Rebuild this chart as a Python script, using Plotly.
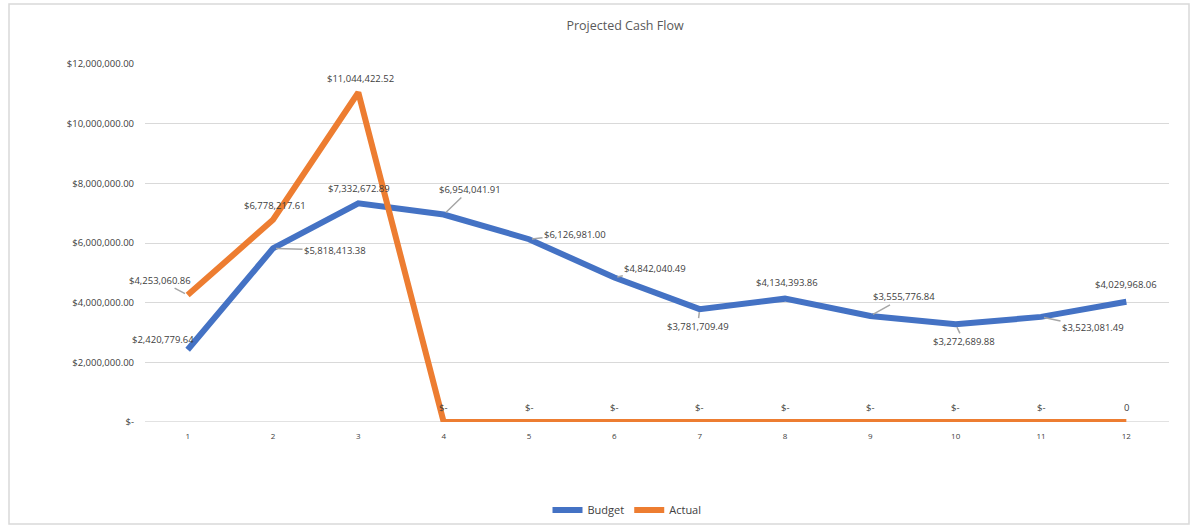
import plotly.graph_objects as go

periods = ["1", "2", "3", "4", "5", "6", "7", "8", "9", "10", "11", "12"]
budget = [2420779.64, 5818413.38, 7332672.89, 6954041.91, 6126981.00, 4842040.49,
          3781709.49, 4134393.86, 3555776.84, 3272689.88, 3523081.49, 4029968.06]
actual = [4253060.86, 6778217.61, 11044422.52, 0, 0, 0, 0, 0, 0, 0, 0, 0]
actual_labels = ["$4,253,060.86", "$6,778,217.61", "$11,044,422.52",
                 "$-", "$-", "$-", "$-", "$-", "$-", "$-", "$-", "0"]
y_ticks = [0, 2000000, 4000000, 6000000, 8000000, 10000000, 12000000]
y_ticktext = ["$-", "$2,000,000.00", "$4,000,000.00", "$6,000,000.00",
              "$8,000,000.00", "$10,000,000.00", "$12,000,000.00"]

BLUE = "#4472C4"
ORANGE = "#ED7D31"
TXT = "#404040"
FONT = "Open Sans"

fig = go.Figure()
fig.add_trace(go.Scatter(x=periods, y=budget, mode="lines", name="Budget",
                         line=dict(color=BLUE, width=6)))
fig.add_trace(go.Scatter(x=periods, y=actual, mode="lines", name="Actual",
                         line=dict(color=ORANGE, width=6)))

# label offsets (dx, dy, leader line?)
b_off = [(-25, -10, False), (62, 2, True), (1, -15, False), (26, -25, True),
         (46, -5, True), (41, -9, True), (-2, 17, True), (2, -16, False),
         (34, -19, True), (8, 17, True), (52, 11, True), (0, -17, False)]
a_off = [(-28, -15, True), (2, -14, False), (2, -14, False)] + [(0, -15, False)] * 9

annots = []
def add_labels(vals, texts, offs):
    for i, (v, t, (dx, dy, lead)) in enumerate(zip(vals, texts, offs)):
        annots.append(dict(x=i, y=v, xref="x", yref="y", text=t,
                           showarrow=True, ax=dx, ay=dy,
                           arrowhead=0, arrowwidth=1.5, standoff=3,
                           arrowcolor="#A6A6A6" if lead else "rgba(0,0,0,0)",
                           font=dict(family=FONT, size=9.5, color=TXT)))

add_labels(budget, ["${:,.2f}".format(v) for v in budget], b_off)
add_labels(actual, actual_labels, a_off)

# chart border
L, R, T, B = 145, 1169, 64, 422
W, H = R - L, B - T
def px(x):
    return (x - L) / W
def py(y):
    return (B - y) / H

fig.update_layout(
    width=1192, height=527,
    margin=dict(l=L, r=1192 - R, t=T, b=527 - B, autoexpand=False),
    paper_bgcolor="white", plot_bgcolor="white",
    title=dict(text="Projected Cash Flow", x=625 / 1192, xanchor="center",
               y=1 - 26 / 527, yanchor="middle",
               font=dict(family=FONT, size=12.5, color="#595959")),
    xaxis=dict(type="category", showgrid=False, zeroline=False, showline=False,
               ticks="", tickfont=dict(family=FONT, size=8, color=TXT),
               ticklabelstandoff=8, range=[-0.5, 11.5], automargin=False),
    yaxis=dict(range=[0, 12000000], tickvals=y_ticks, ticktext=y_ticktext,
               showgrid=True, gridcolor="#D9D9D9", gridwidth=1.3,
               zeroline=False, showline=False, ticks="", ticklabelstandoff=10,
               tickfont=dict(family=FONT, size=9.5, color=TXT), automargin=False),
    showlegend=True,
    legend=dict(orientation="h", x=px(627), xanchor="center",
                yref="container", y=1 - 510 / 527, yanchor="middle",
                font=dict(family=FONT, size=11, color=TXT), itemwidth=30,
                bgcolor="rgba(0,0,0,0)"),
    annotations=annots,
    shapes=[dict(type="rect", xref="paper", yref="paper",
                 x0=px(9), x1=px(1189), y0=py(524), y1=py(4),
                 line=dict(color="#D9D9D9", width=1.5), fillcolor="rgba(0,0,0,0)",
                 layer="below"),
            dict(type="line", xref="paper", yref="y", x0=0, x1=1, y0=0, y1=0,
                 line=dict(color="#D9D9D9", width=1.5), layer="below")],
)

fig.write_html("out.html", config={"displayModeBar": False},
               post_script="document.body.style.margin='0';")
